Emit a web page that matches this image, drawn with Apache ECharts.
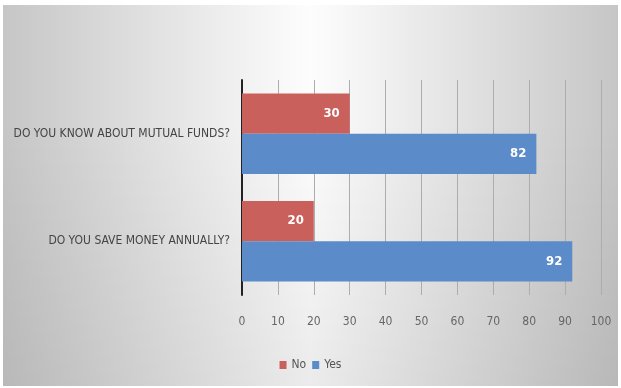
<!DOCTYPE html>
<html>
<head>
<meta charset="utf-8">
<script src="https://cdn.jsdelivr.net/npm/echarts@6/dist/echarts.min.js"></script>
<style>
html,body{margin:0;padding:0;background:#fff;}
#chart{width:621px;height:388px;}
</style>
</head>
<body>
<div id="chart"></div>
<script>
const categories = ['DO YOU KNOW ABOUT MUTUAL FUNDS?', 'DO YOU SAVE MONEY ANNUALLY?'];
const noValues = [30, 20];
const yesValues = [82, 92];
const seriesNames = ['No', 'Yes'];

const FONT = '"Liberation Sans Narrow", "DejaVu Sans Condensed", sans-serif';
const chart = echarts.init(document.getElementById('chart'));
const labelStyle = {
  show: true, position: 'insideRight', color: '#fff', fontWeight: 'bold',
  fontFamily: FONT, fontSize: 13, distance: 10
};
chart.setOption({
  animation: false,
  graphic: [{
    type: 'rect', z: -10, silent: true,
    shape: {x: 3, y: 5, width: 615, height: 381},
    style: {
      fill: new echarts.graphic.LinearGradient(0, 0, 1, 0, [
        {offset: 0, color: '#c6c6c6'},
        {offset: 0.25, color: '#e2e2e2'},
        {offset: 0.5, color: '#fdfdfd'},
        {offset: 0.75, color: '#e2e2e2'},
        {offset: 1, color: '#c6c6c6'}
      ])
    }
  }, {
    type: 'rect', z: -9, silent: true,
    shape: {x: 3, y: 5, width: 615, height: 381},
    style: {
      fill: new echarts.graphic.LinearGradient(0, 0, 0, 1, [
        {offset: 0, color: 'rgba(0,0,0,0)'},
        {offset: 0.3, color: 'rgba(0,0,0,0)'},
        {offset: 1, color: 'rgba(0,0,0,0.07)'}
      ])
    }
  }],
  grid: {left: 242, right: 20, top: 80, bottom: 93},
  legend: {
    data: seriesNames, bottom: 12, left: 'center',
    itemWidth: 7, itemHeight: 8, itemGap: 6, icon: 'rect',
    textStyle: {fontFamily: FONT, fontSize: 12, color: '#555'}
  },
  xAxis: {
    type: 'value', min: 0, max: 100, interval: 10,
    axisLine: {show: false},
    axisTick: {show: false},
    axisLabel: {fontFamily: FONT, fontSize: 12, color: '#666', margin: 21},
    splitLine: {show: true, lineStyle: {color: '#adadad', width: 1}}
  },
  yAxis: {
    type: 'category', data: categories, inverse: true,
    axisLine: {show: true, lineStyle: {color: '#222', width: 2}},
    axisTick: {show: false},
    axisLabel: {fontFamily: FONT, fontSize: 12, color: '#444', margin: 12}
  },
  series: [
    {name: 'No', type: 'bar', data: noValues, barGap: '0%', barCategoryGap: '25%',
     itemStyle: {color: '#C9605C'}, label: labelStyle},
    {name: 'Yes', type: 'bar', data: yesValues, barGap: '0%', barCategoryGap: '25%',
     itemStyle: {color: '#5B8BC9'}, label: labelStyle}
  ]
});
</script>
</body>
</html>
